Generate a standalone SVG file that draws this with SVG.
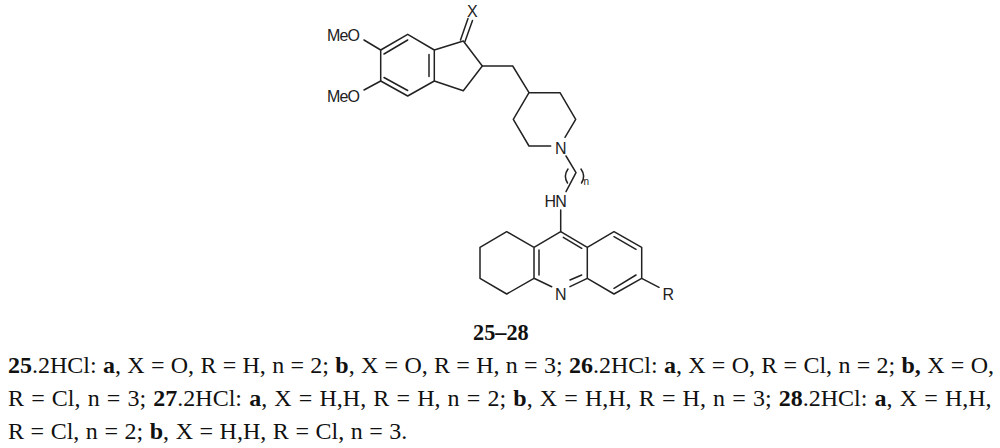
<svg xmlns="http://www.w3.org/2000/svg" width="1000" height="448" viewBox="0 0 1000 448">
<style>
.b{fill:none;stroke:#222;stroke-width:1.5;stroke-linecap:round;stroke-linejoin:round}
.a{font-family:"Liberation Sans",Arial,sans-serif;font-size:16px;fill:#222}
.t{font-family:"Liberation Serif","Times New Roman",serif;font-size:24px;fill:#111}
.t tspan.h{font-weight:bold}
</style>
<rect width="1000" height="448" fill="#fff"/>
<g id="connectors">
<path class="b" d="M380.7 50L407.7 34.3L434.3 50L434.3 81L407.7 96L380.7 81ZM434.3 50L463.3 41L482.3 66L463.3 90.7L434.3 81M384 54L407.7 40M384 77.5L407.7 90.5M429 54.5V76.5"/>
<path class="b" d="M460.5 40L468 18.5M465 41.5L472.5 20.5M364 40L380.7 50M364 90L380.7 81"/>
<path class="b" d="M482.3 66H512.7L529 92.7H560L575.7 119.3L565 137.3M550.7 146H529L513.3 119.3L529 92.7"/>
<path class="b" d="M566 156L576 172.7L566 191.7M560.7 210V231.7"/>
<path class="b" d="M560.7 231.7L534 247.3V278.3L551.7 286.7M570 286.7L587.3 278.3V247.3L560.7 231.7M534 247.3L506.7 231.7L480 247.3V278.3L506.7 294L534 278.3M587.3 247.3L614 231.7L641.7 247.3V278.3L614 294L587.3 278.3M641.7 278.3L659 287.3"/>
<path class="b" d="M563.3 237.3L581.7 248.3M539 250V275M570 280L581.7 275M614 236.7L636 249.3M614 288.3L636 275"/>
<path class="b" d="M568 169Q563 176 567.5 183M581 169Q586 176 581.5 183"/>
</g>
<g id="labels">
<text class="a" x="327" y="40.5" style="letter-spacing:-.9px">MeO</text>
<text class="a" x="327" y="101.5" style="letter-spacing:-.9px">MeO</text>
<text class="a" x="467" y="17">X</text>
<text class="a" x="555" y="153.5">N</text>
<text class="a" x="544.5" y="206.5" style="letter-spacing:-.8px">HN</text>
<text class="a" x="555" y="299.5">N</text>
<text class="a" x="662.5" y="300">R</text>
<text class="a" style="font-size:10px" x="583.5" y="184.5">n</text>
</g>
<g id="caption">
<text class="t" style="font-size:22.3px" x="473" y="340"><tspan class="h">25–28</tspan></text>
<text class="t" style="word-spacing:.3px" x="8" y="373"><tspan class="h">25</tspan>.2HCl: <tspan class="h">a</tspan>, X = O, R = H, n = 2; <tspan class="h">b</tspan>, X = O, R = H, n = 3; <tspan class="h">26</tspan>.2HCl: <tspan class="h">a</tspan>, X = O, R = Cl, n = 2; <tspan class="h">b,</tspan> X = O,</text>
<text class="t" style="word-spacing:1.15px" x="8" y="406">R = Cl, n = 3; <tspan class="h">27</tspan>.2HCl: <tspan class="h">a</tspan>, X = H,H, R = H, n = 2; <tspan class="h">b</tspan>, X = H,H, R = H, n = 3; <tspan class="h">28</tspan>.2HCl: <tspan class="h">a</tspan>, X = H,H,</text>
<text class="t" style="word-spacing:.55px" x="8" y="439">R = Cl, n = 2; <tspan class="h">b</tspan>, X = H,H, R = Cl, n = 3.</text>
</g>
</svg>
